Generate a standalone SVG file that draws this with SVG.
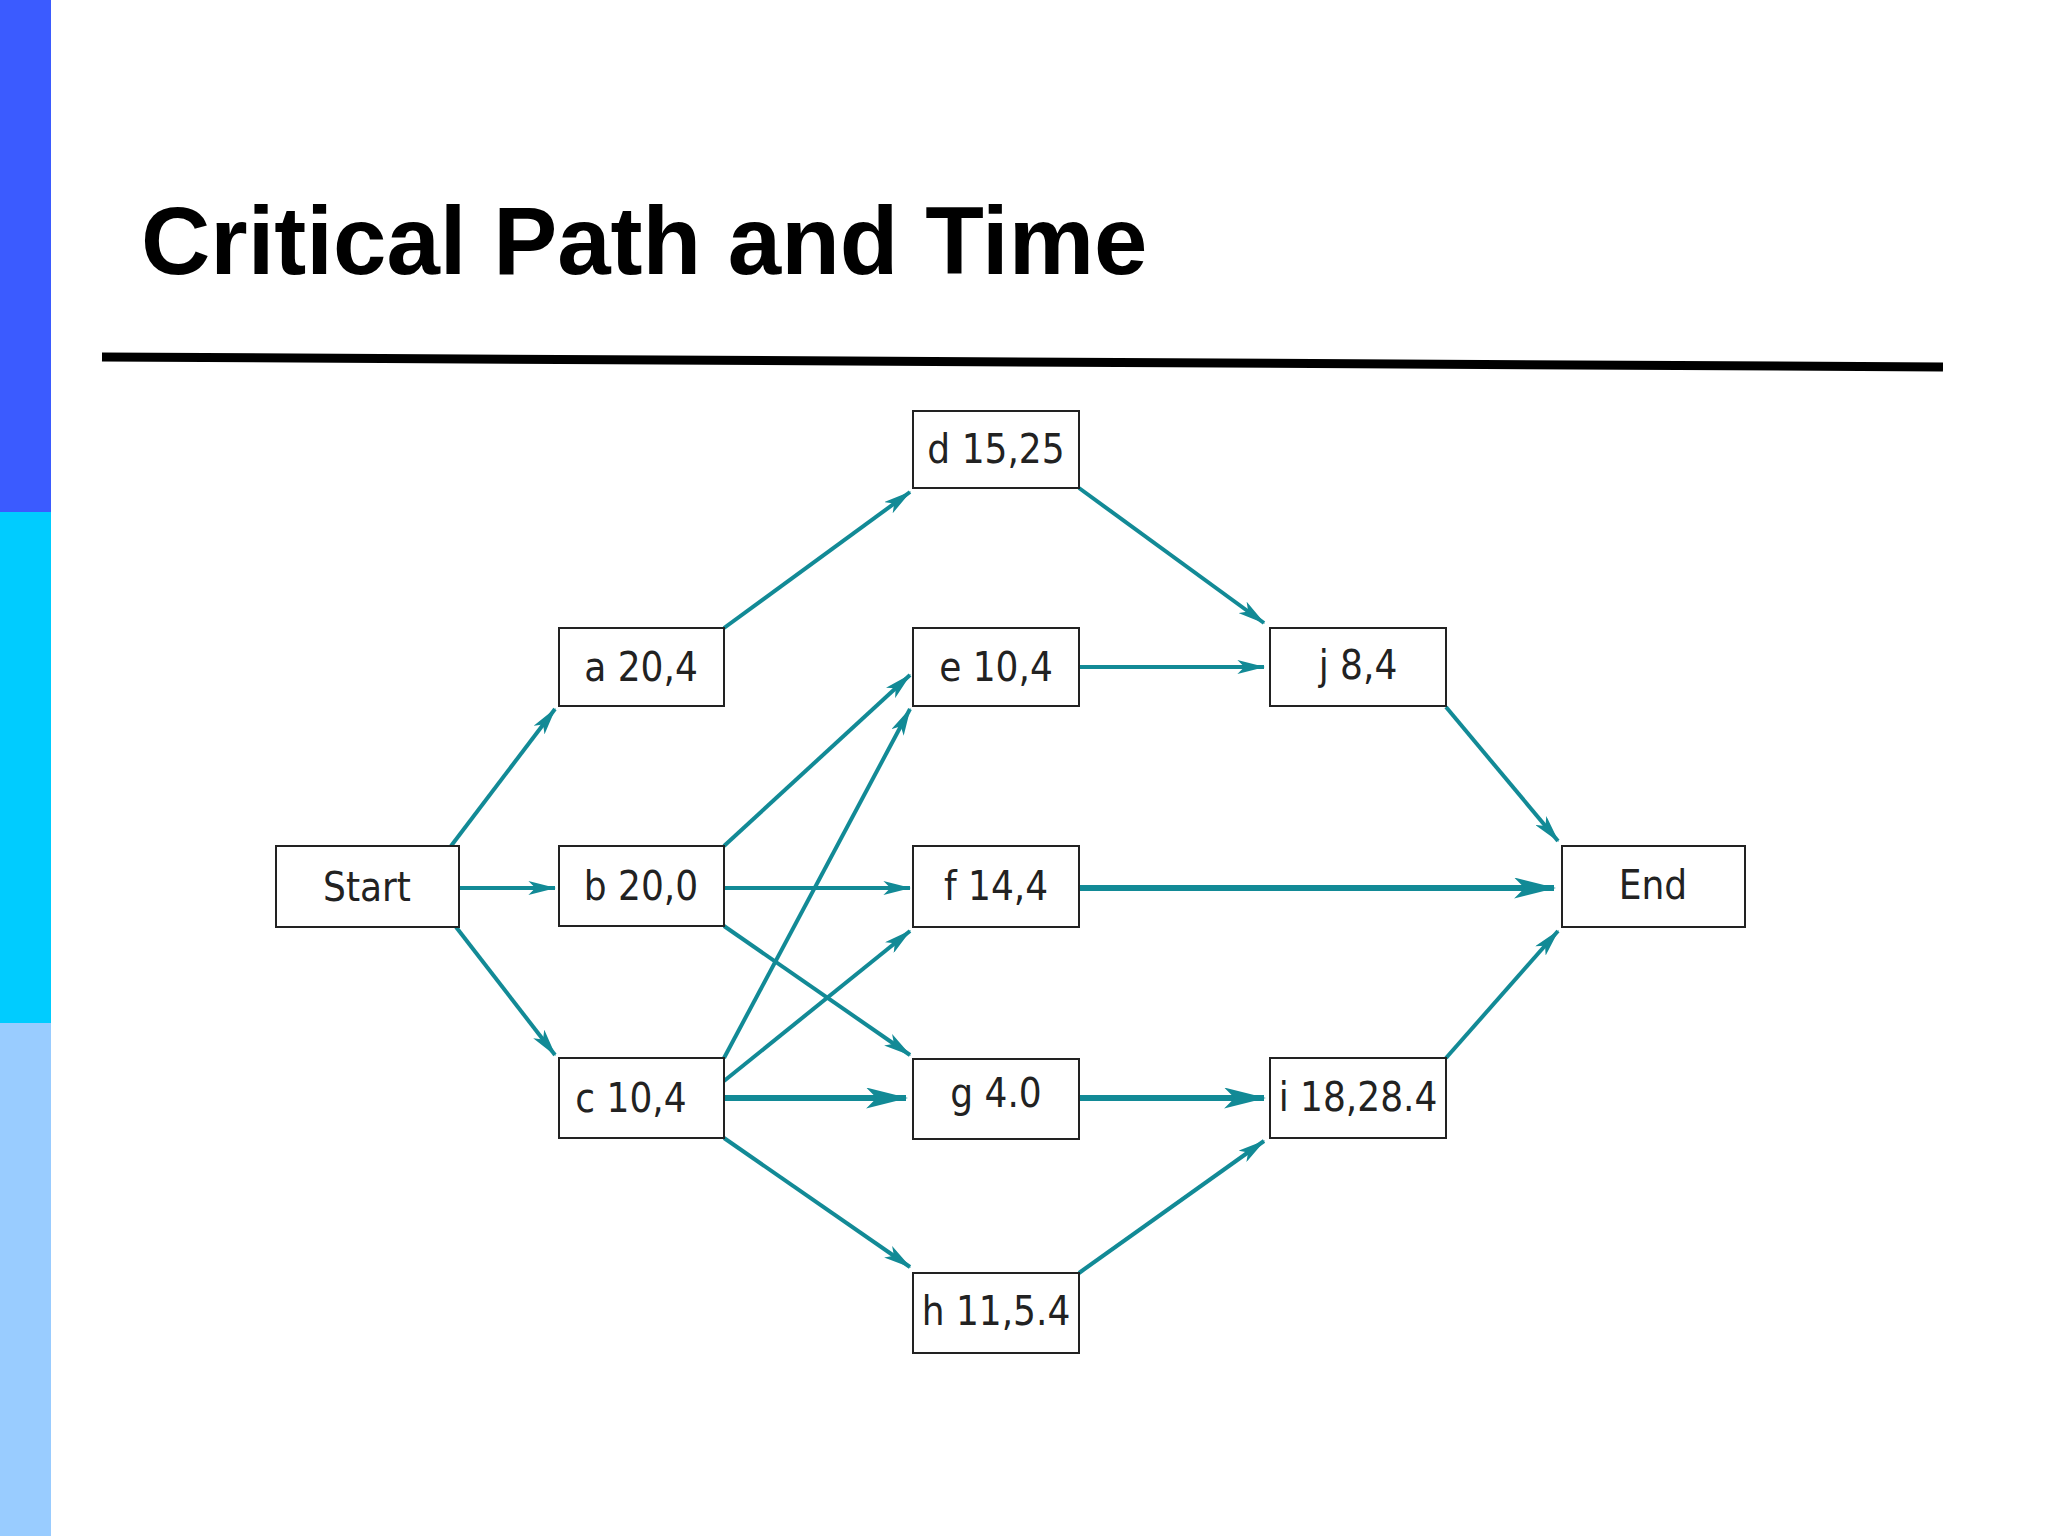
<svg xmlns="http://www.w3.org/2000/svg" width="2048" height="1536" viewBox="0 0 2048 1536">
<style>
.n rect{fill:#fff;stroke:#222;stroke-width:2}
.n text{font-family:"DejaVu Sans Condensed","DejaVu Sans",sans-serif;font-stretch:condensed;font-size:40px;fill:#222;text-anchor:middle}
.e line{stroke:#128a96;stroke-width:4;marker-end:url(#ah)}
.e line.t{stroke-width:6}
</style>
<defs>
<marker id="ah" viewBox="0 0 20 10" refX="19" refY="5" markerWidth="7" markerHeight="3.5" markerUnits="strokeWidth" orient="auto">
<path d="M0,0 L20,5 L0,10 L5,5 Z" fill="#128a96"/>
</marker>
</defs>
<rect width="2048" height="1536" fill="#fff"/>
<rect x="0" y="0" width="51" height="512" fill="#3b5bff"/>
<rect x="0" y="512" width="51" height="511" fill="#00ccff"/>
<rect x="0" y="1023" width="51" height="513" fill="#99ccff"/>
<text x="141" y="274" font-family="Liberation Sans,Arial,sans-serif" font-weight="bold" font-size="96" fill="#000">Critical Path and Time</text>
<line x1="102" y1="357" x2="1943" y2="367" stroke="#000" stroke-width="9"/>
<g class="e" id="connectors">
<line x1="451" y1="846" x2="555" y2="709"/>
<line x1="459" y1="888" x2="555" y2="888"/>
<line x1="456" y1="927" x2="555" y2="1055"/>
<line x1="724" y1="628" x2="910" y2="492"/>
<line x1="1079" y1="488" x2="1264" y2="623"/>
<line x1="1079" y1="667" x2="1264" y2="667"/>
<line x1="1446" y1="707" x2="1558" y2="841"/>
<line x1="724" y1="846" x2="910" y2="675"/>
<line x1="724" y1="888" x2="910" y2="888"/>
<line x1="724" y1="926" x2="910" y2="1055"/>
<line x1="724" y1="1058" x2="910" y2="709"/>
<line x1="724" y1="1081" x2="910" y2="931"/>
<line class="t" x1="724" y1="1098" x2="906" y2="1098"/>
<line x1="724" y1="1138" x2="910" y2="1267"/>
<line class="t" x1="1079" y1="888" x2="1554" y2="888"/>
<line class="t" x1="1079" y1="1098" x2="1264" y2="1098"/>
<line x1="1079" y1="1273" x2="1264" y2="1141"/>
<line x1="1446" y1="1058" x2="1558" y2="931"/>
</g>
<g class="n" id="start"><rect x="276" y="846" width="183" height="81"/><text x="367" y="901">Start</text></g>
<g class="n" id="a"><rect x="559" y="628" width="165" height="78"/><text x="641" y="681">a 20,4</text></g>
<g class="n" id="b"><rect x="559" y="846" width="165" height="80"/><text x="641" y="900">b 20,0</text></g>
<g class="n" id="c"><rect x="559" y="1058" width="165" height="80"/><text x="631" y="1112">c 10,4</text></g>
<g class="n" id="d"><rect x="913" y="411" width="166" height="77"/><text x="996" y="463">d 15,25</text></g>
<g class="n" id="e"><rect x="913" y="628" width="166" height="78"/><text x="996" y="681">e 10,4</text></g>
<g class="n" id="f"><rect x="913" y="846" width="166" height="81"/><text x="996" y="900">f 14,4</text></g>
<g class="n" id="g"><rect x="913" y="1059" width="166" height="80"/><text x="996" y="1107">g 4.0</text></g>
<g class="n" id="h"><rect x="913" y="1273" width="166" height="80"/><text x="996" y="1325">h 11,5.4</text></g>
<g class="n" id="j"><rect x="1270" y="628" width="176" height="78"/><text x="1358" y="679">j 8,4</text></g>
<g class="n" id="i"><rect x="1270" y="1058" width="176" height="80"/><text x="1358" y="1111">i 18,28.4</text></g>
<g class="n" id="end"><rect x="1562" y="846" width="183" height="81"/><text x="1653" y="899">End</text></g>
</svg>
